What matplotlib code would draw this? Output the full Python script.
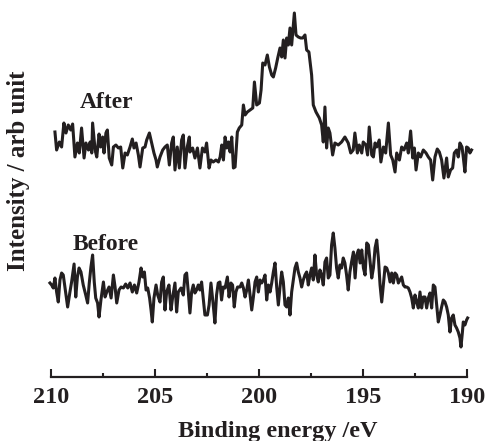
import numpy as np
import matplotlib
matplotlib.use('Agg')
import matplotlib.pyplot as plt
from matplotlib.ticker import MultipleLocator

# espectro XPS (intensidade em unidades arbitrarias)
energia_depois = [209.81, 209.73, 209.60, 209.49, 209.38, 209.28, 209.17, 209.05, 208.96, 208.85,
                  208.73, 208.64, 208.53, 208.41, 208.32, 208.20, 208.12, 208.04, 208.00, 207.88,
                  207.80, 207.69, 207.61, 207.52, 207.45, 207.36, 207.29, 207.20, 207.08, 207.00,
                  206.88, 206.76, 206.65, 206.55, 206.44, 206.33, 206.20, 206.09, 206.01, 205.91,
                  205.80, 205.72, 205.59, 205.48, 205.40, 205.27, 205.16, 205.05, 204.95, 204.89,
                  204.76, 204.63, 204.52, 204.41, 204.31, 204.20, 204.12, 204.04, 203.93, 203.83,
                  203.72, 203.64, 203.56, 203.45, 203.35,
                  203.32, 203.19, 203.08, 202.96, 202.84, 202.72, 202.60, 202.52, 202.40, 202.31,
                  202.20, 202.07, 201.95, 201.87, 201.79, 201.71, 201.63, 201.55, 201.47, 201.39,
                  201.31, 201.23, 201.15, 201.04, 200.95, 200.83, 200.75, 200.67, 200.56, 200.43,
                  200.30, 200.22, 200.11, 199.98, 199.90, 199.82, 199.71, 199.60, 199.50, 199.39,
                  199.31, 199.20, 199.10, 198.99, 198.91, 198.83, 198.75, 198.67, 198.59, 198.51,
                  198.43, 198.35, 198.30, 198.22, 198.11, 198.00, 197.90, 197.79, 197.71, 197.60,
                  197.47, 197.39, 197.26, 197.10, 196.99, 196.91, 196.83, 196.75, 196.67,
                  196.59, 196.46, 196.35, 196.19, 196.03, 195.87, 195.71, 195.59, 195.47, 195.39,
                  195.27, 195.18, 195.06, 194.99, 194.86, 194.78, 194.70, 194.58, 194.50, 194.42,
                  194.34, 194.22, 194.14, 194.02, 193.91, 193.78, 193.67, 193.57, 193.46, 193.38,
                  193.25, 193.14, 193.03, 192.90, 192.82, 192.71, 192.61, 192.53, 192.45, 192.34,
                  192.23, 192.10, 191.97, 191.86, 191.75, 191.65, 191.54, 191.43, 191.33, 191.22,
                  191.11, 190.98, 190.90, 190.79, 190.69, 190.61, 190.50, 190.42, 190.34, 190.24,
                  190.18, 190.10, 190.02, 189.94, 189.86, 189.78]
intensidade_depois = [245, 227, 235, 230, 254, 244, 252, 247, 253, 220,
                      234, 224, 249, 219, 234, 227, 235, 224, 254, 227,
                      220, 243, 230, 240, 224, 244, 247, 219, 212, 230,
                      232, 229, 230, 209, 224, 222, 230, 238, 229, 234,
                      222, 210, 229, 230, 237, 244, 234, 224, 217, 210,
                      220, 227, 230, 232, 212, 234, 240, 207, 230, 209,
                      237, 242, 209, 230, 240,
                      225, 229, 219, 229, 209, 229, 225, 234, 209, 217,
                      215, 217, 215, 220, 232, 217, 240, 229, 235, 225,
                      240, 209, 210, 245, 249, 252, 272, 262, 265, 267,
                      269, 295, 272, 274, 287, 314, 312, 322, 310, 302,
                      300, 309, 319, 329, 320, 337, 319, 339, 332, 349,
                      332, 352, 364, 342, 340, 339, 339, 342, 327, 325,
                      302, 272, 265, 259, 252, 235, 270, 229, 249,
                      244, 222, 234, 232, 235, 240, 234, 224, 227, 244,
                      224, 232, 224, 235, 232, 222, 250, 222, 220, 234,
                      230, 237, 215, 230, 224, 254, 222, 217, 205, 224,
                      217, 230, 227, 234, 224, 246, 219, 229, 207, 224,
                      220, 227, 224, 220, 217, 197, 220, 228, 225, 217,
                      199, 219, 200, 207, 209, 224, 227, 220, 234, 230,
                      220, 205, 230, 229, 224, 227]

energia_antes = [210.05, 209.97, 209.89, 209.81, 209.73, 209.65, 209.57, 209.49, 209.41, 209.33,
                 209.20, 209.09, 209.01, 208.89, 208.81, 208.73, 208.65, 208.56, 208.45, 208.33,
                 208.24, 208.16, 208.08, 208.00, 207.92, 207.85, 207.76, 207.69, 207.60, 207.48,
                 207.40, 207.32, 207.21, 207.11, 207.00, 206.92, 206.84, 206.73, 206.63, 206.52,
                 206.41, 206.31, 206.20, 206.09, 205.99, 205.88, 205.77, 205.67, 205.59, 205.51,
                 205.43, 205.35, 205.26, 205.19, 205.13, 205.05, 204.95, 204.87, 204.76, 204.68,
                 204.60, 204.52, 204.44, 204.33, 204.23, 204.15, 204.04, 203.96, 203.88, 203.75,
                 203.64,
                 203.56, 203.48, 203.40, 203.32, 203.24, 203.16, 203.08, 203.00, 202.92, 202.84,
                 202.76, 202.68, 202.60, 202.48, 202.40, 202.31, 202.20, 202.12, 202.04, 201.96,
                 201.88, 201.80, 201.72, 201.63, 201.52, 201.44, 201.35, 201.27, 201.19, 201.11,
                 201.03, 200.91, 200.83, 200.75, 200.67, 200.59, 200.51, 200.43, 200.35, 200.27,
                 200.19, 200.11, 200.03, 199.95, 199.87, 199.79, 199.71, 199.63, 199.55, 199.47,
                 199.39, 199.31, 199.23, 199.15, 199.07, 198.99, 198.91, 198.83, 198.75, 198.67,
                 198.59, 198.51, 198.43, 198.35, 198.27, 198.19, 198.11, 198.03, 197.95, 197.87,
                 197.79, 197.71, 197.63, 197.55, 197.47, 197.39, 197.31, 197.23, 197.15, 197.07,
                 196.99, 196.91,
                 196.83, 196.75, 196.67, 196.59, 196.51, 196.43, 196.35, 196.27, 196.19, 196.11,
                 196.03, 195.95, 195.87, 195.79, 195.71, 195.63, 195.55, 195.46, 195.38, 195.30,
                 195.22, 195.14, 195.06, 194.98, 194.90, 194.82, 194.74, 194.66, 194.58, 194.50,
                 194.42, 194.34, 194.26, 194.18, 194.10, 194.02, 193.94, 193.86, 193.78, 193.70,
                 193.62, 193.54, 193.46, 193.38, 193.30, 193.22, 193.14, 193.06, 192.98, 192.90,
                 192.82, 192.74, 192.66, 192.58, 192.50, 192.42, 192.34, 192.26, 192.18, 192.10,
                 192.02, 191.94, 191.86, 191.78, 191.70, 191.62, 191.54, 191.46, 191.38, 191.30,
                 191.22, 191.14, 191.06, 190.98, 190.90, 190.82, 190.74, 190.66, 190.58, 190.50,
                 190.42, 190.34, 190.29, 190.22, 190.18, 190.10, 190.02, 189.97]
intensidade_antes = [94, 92, 89, 99, 85, 75, 97, 104, 102, 90,
                     70, 85, 95, 113, 80, 100, 109, 105, 92, 82,
                     74, 94, 110, 122, 95, 79, 74, 60, 77, 95,
                     80, 85, 90, 79, 102, 90, 74, 87, 90, 89,
                     93, 89, 94, 85, 92, 84, 95, 109, 100, 105,
                     87, 89, 79, 67, 55, 79, 92, 82, 75, 95,
                     100, 67, 85, 92, 67, 80, 94, 65, 85, 89,
                     82,
                     102, 104, 85, 64, 85, 92, 84, 87, 92, 87,
                     95, 79, 62, 62, 72, 94, 72, 54, 82, 94,
                     95, 77, 90, 89, 100, 80, 94, 92, 70, 85,
                     90, 90, 94, 89, 80, 87, 97, 82, 67, 80,
                     95, 100, 85, 97, 94, 97, 102, 77, 92, 85,
                     94, 105, 114, 90, 72, 90, 105, 95, 72, 70,
                     79, 62, 85, 97, 109, 114, 105, 99, 90, 97,
                     102, 105, 92, 102, 109, 97, 122, 102, 95, 107,
                     102, 92,
                     115, 119, 99, 102, 132, 144, 129, 109, 99, 112,
                     109, 119, 114, 102, 87, 105, 115, 125, 99, 122,
                     127, 114, 127, 109, 102, 134, 132, 115, 99, 109,
                     129, 137, 119, 92, 75, 92, 110, 109, 104, 95,
                     104, 94, 104, 102, 94, 97, 100, 92, 90, 90,
                     89, 85, 79, 69, 82, 75, 69, 85, 69, 80,
                     80, 69, 79, 84, 69, 92, 90, 72, 55, 62,
                     70, 77, 75, 70, 62, 45, 59, 62, 52, 49,
                     45, 39, 30, 45, 55, 52, 57, 59]

rotulos = ['After', 'Before']
pos_rotulos = [(208.61, 269), (208.94, 127)]

cor = '#231f20'
plt.rcParams['font.family'] = ['Liberation Serif', 'DejaVu Serif']
plt.rcParams['font.weight'] = 'bold'

fig = plt.figure(figsize=(4.87, 4.41), dpi=100)
# eixo: 210 eV em x=51 px, 190 eV em x=467 px, linha base em y=377 px
ax = fig.add_axes([42.68 / 487, 64 / 441, 432.64 / 487, 377 / 441])
ax.plot(energia_depois, intensidade_depois, color=cor, linewidth=2.2, solid_joinstyle='round')
ax.plot(energia_antes, intensidade_antes, color=cor, linewidth=2.2, solid_joinstyle='round')

for txt, (x, y) in zip(rotulos, pos_rotulos):
    ax.text(x, y, txt, fontsize=17, fontweight='bold', color=cor, ha='left', va='baseline')

ax.set_xlim(210.4, 189.6)
ax.set_ylim(0, 377)
for lado in ['top', 'right', 'left']:
    ax.spines[lado].set_visible(False)
ax.spines['bottom'].set_bounds(190, 210)
ax.spines['bottom'].set_linewidth(1.6)
ax.spines['bottom'].set_color(cor)
ax.set_yticks([])
ax.xaxis.set_major_locator(MultipleLocator(5))
ax.xaxis.set_minor_locator(MultipleLocator(2.5))
ax.tick_params(axis='x', which='major', direction='in', length=6, width=1.5, color=cor,
               labelsize=17.5, pad=7, labelcolor=cor)
ax.tick_params(axis='x', which='minor', direction='in', length=3, width=1.5, color=cor)
ax.set_xticks([210, 205, 200, 195, 190])
ax.set_xticklabels(['210', '205', '200', '195', '190'], fontweight='bold')

fig.text(278 / 487, 4 / 441, 'Binding energy /eV', fontsize=17.5, fontweight='bold',
         color=cor, ha='center', va='baseline')
fig.text(7 / 487, 1 - 171 / 441, 'Intensity / arb unit', fontsize=18, fontweight='bold',
         color=cor, ha='left', va='center', rotation=90)

fig.savefig('out.png', dpi=100)
